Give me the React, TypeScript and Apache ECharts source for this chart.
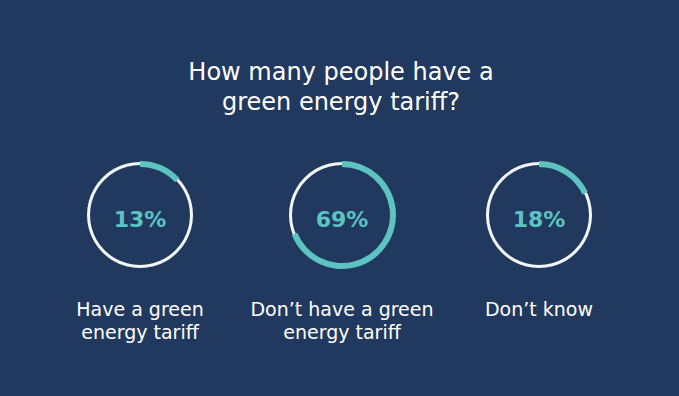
import React, { useEffect, useRef } from "react";
import * as echarts from "echarts";

const categories = ["Have a green\nenergy tariff", "Don’t have a green\nenergy tariff", "Don’t know"];
const values = [13, 69, 18];
const titleText = "How many people have a\ngreen energy tariff?";

const BG = "#21395e";
const TEAL = "#5cc3c1";
const WHITE = "#f4f6f8";
const centersX = [140, 342, 539];
const centerY = 215;
const FONT = "'DejaVu Sans'";

export default function App() {
  const ref = useRef<HTMLDivElement>(null);
  useEffect(() => {
    document.body.style.margin = "0";
    const chart = echarts.init(ref.current!, null, { renderer: "svg" });
    const series: any[] = [];
    values.forEach((v, i) => {
      series.push({
        type: "pie",
        center: [centersX[i], centerY],
        radius: [50, 53],
        silent: true,
        label: { show: false },
        labelLine: { show: false },
        itemStyle: { color: WHITE },
        data: [{ value: 100, name: "base" + i }],
        z: 1,
      });
      series.push({
        type: "pie",
        center: [centersX[i], centerY],
        radius: [48, 54],
        startAngle: 90,
        silent: true,
        labelLine: { show: false },
        data: [
          {
            value: v,
            name: categories[i],
            itemStyle: { color: TEAL },
            label: {
              show: true,
              position: "center",
              formatter: "{c}%",
              color: TEAL,
              fontSize: 22,
              fontWeight: 600,
              fontFamily: "DejaVu Sans",
              offset: [0, 4],
            },
          },
          {
            value: 100 - v,
            name: "rest" + i,
            itemStyle: { color: "rgba(0,0,0,0)" },
            label: { show: false },
          },
        ],
        z: 2,
      });
    });
    chart.setOption({
      animation: false,
      backgroundColor: BG,
      graphic: [
        {
          type: "text",
          x: 341,
          y: 57,
          style: {
            text: titleText,
            fill: "#ffffff",
            font: `400 24px ${FONT}`,
            textAlign: "center",
            textVerticalAlign: "top",
            lineHeight: 30,
          },
        },
        ...categories.map((c, i) => ({
          type: "text",
          x: centersX[i],
          y: 297,
          style: {
            text: c,
            fill: "#ffffff",
            font: `400 19px ${FONT}`,
            textAlign: "center",
            textVerticalAlign: "top",
            lineHeight: 23,
          },
        })),
      ],
      series,
    });
    return () => chart.dispose();
  }, []);
  return <div ref={ref} style={{ width: 679, height: 396 }} />;
}
